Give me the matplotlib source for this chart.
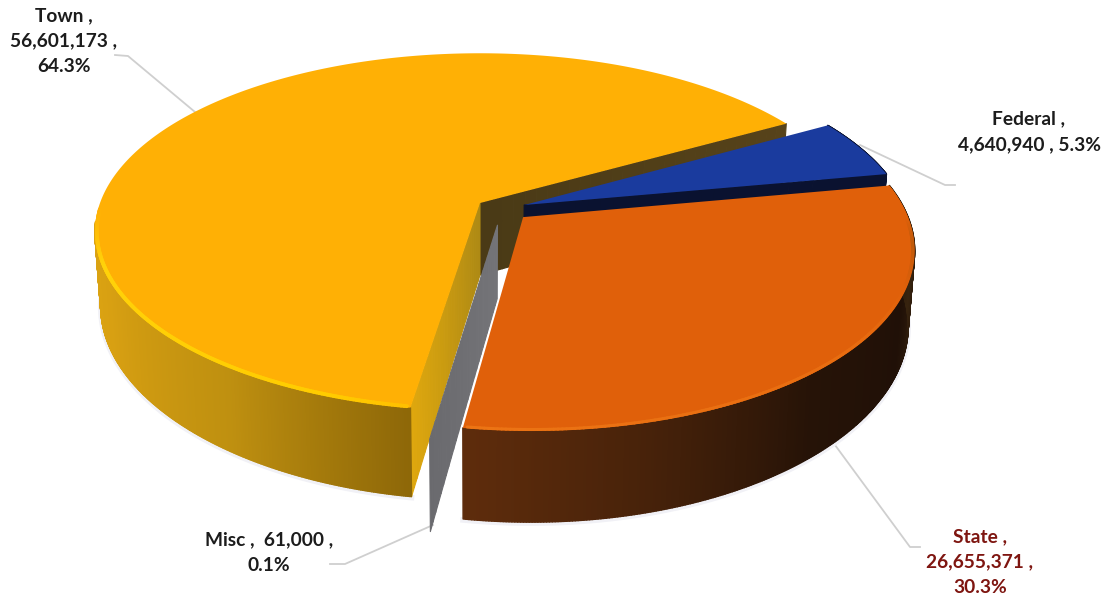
#! /usr/bin/env python
#
# Exploded 3-D pie of revenue by source, drawn as projected polygons.

import numpy as np
import matplotlib
matplotlib.use('Agg')
import matplotlib.pyplot as plt
from matplotlib.collections import PolyCollection, LineCollection
from matplotlib.colors import to_rgb

# chart values
sources = ['Town', 'Misc', 'State', 'Federal']
amounts = [56601173, 61000, 26655371, 4640940]
shares = ['64.3%', '0.1%', '30.3%', '5.3%']

# viewing setup, in figure pixels
origin = (480.0, 203.0)
radius_x, radius_y = 380.0, 174.0
tilt = 0.162
depth = 72.0
bottom_shrink = 0.985
start_angle = 29.5

# plane offset of each slice from the pie centre
explode = {'Town': (0.0, 0.0), 'Misc': (0.045, -0.125),
           'State': (0.112, -0.08), 'Federal': (0.116, -0.0115)}

top_colors = {'Town': '#FFB005', 'Misc': '#8a8a8a', 'State': '#E0600A',
              'Federal': '#1A3B9E'}

# side shading as (angle, colour) stops
town_side = [(165, '#E2AA14'), (205, '#D8A012'), (235, '#BF9010'), (262, '#8C6608')]
state_side = [(262, '#5E2C0C'), (285, '#47220A'), (310, '#261307'),
              (335, '#201007'), (355, '#38240F'), (371, '#1A1005')]
federal_side = [(11, '#0A1230'), (30, '#0A1230')]


def project(u, v):
    w = 1 + tilt * v
    return origin[0] + radius_x * u / w, origin[1] - radius_y * v / w


def top_point(offset, r, angle):
    t = np.radians(angle)
    return project(offset[0] + r * np.cos(t), offset[1] + r * np.sin(t))


def drop(x, y):
    # same point on the underside of the disc, nearer points drop further
    x = np.asarray(x, dtype=float)
    y = np.asarray(y, dtype=float)
    below = (y - origin[1]) / radius_y
    w = 1 / (1 - tilt * below)
    return origin[0] + (x - origin[0]) * bottom_shrink, y + depth * w


def shade(stops, angles):
    pos = [s[0] for s in stops]
    rgb = np.array([to_rgb(s[1]) for s in stops])
    return np.column_stack([np.interp(angles, pos, rgb[:, i]) for i in range(3)])


def draw_wall(ax, offset, angle, color_in, color_out, zorder):
    # flat cut face running from the slice tip out to the rim
    r = np.linspace(0, 1, 30)
    x, y = top_point(offset, r, angle)
    xb, yb = drop(x, y)
    quads = [[(x[i], y[i]), (x[i + 1], y[i + 1]), (xb[i + 1], yb[i + 1]), (xb[i], yb[i])]
             for i in range(len(r) - 1)]
    c0, c1 = np.array(to_rgb(color_in)), np.array(to_rgb(color_out))
    colors = [c0 + (c1 - c0) * f for f in r[:-1]]
    ax.add_collection(PolyCollection(quads, facecolors=colors, edgecolors=colors,
                                     linewidths=0.8, zorder=zorder))


def draw_side(ax, offset, a0, a1, stops, zorder):
    angles = np.linspace(a0, a1, 300)
    x, y = top_point(offset, 1.0, angles)
    xb, yb = drop(x, y)
    # pale halo under the lower edge
    ax.plot(xb, yb + 1, color='#F1F1F6', lw=4, zorder=0.5)
    quads = [[(x[i], y[i]), (x[i + 1], y[i + 1]), (xb[i + 1], yb[i + 1]), (xb[i], yb[i])]
             for i in range(len(angles) - 1)]
    colors = shade(stops, angles[:-1])
    ax.add_collection(PolyCollection(quads, facecolors=colors, edgecolors=colors,
                                     linewidths=1.0, zorder=zorder))


def draw_top(ax, offset, a0, a1, color, zorder):
    angles = np.linspace(a0, a1, 300)
    x, y = top_point(offset, 1.0, angles)
    tip = project(*offset)
    ax.fill(np.r_[tip[0], x], np.r_[tip[1], y], color=color, lw=0, zorder=zorder)


def draw_bevel(ax, offset, a0, a1, stops, lw, zorder):
    angles = np.linspace(a0, a1, 200)
    x, y = top_point(offset, 0.995, angles)
    pts = np.column_stack([x, y]).reshape(-1, 1, 2)
    segs = np.concatenate([pts[:-1], pts[1:]], axis=1)
    ax.add_collection(LineCollection(segs, colors=shade(stops, angles[:-1]),
                                     linewidths=lw, zorder=zorder, capstyle='round'))


# slice angles follow the amounts
total = float(sum(amounts))
spans = [a / total * 360.0 for a in amounts]
edges = start_angle + np.r_[0, np.cumsum(spans)]
limits = {s: (edges[i], edges[i + 1]) for i, s in enumerate(sources)}

fig = plt.figure(figsize=(11.07, 6.0), dpi=100)
ax = fig.add_axes([0, 0, 1, 1])
ax.set_xlim(0, 1107)
ax.set_ylim(600, 0)
ax.axis('off')

# Town slice first, everything else sits in front of it
t0, t1 = limits['Town']
draw_wall(ax, explode['Town'], t0, '#4A3A16', '#57431A', 1)
draw_wall(ax, explode['Town'], t1, '#AE8A14', '#E0A80E', 2)
draw_side(ax, explode['Town'], 186, t1, town_side, 3)
draw_top(ax, explode['Town'], t0, t1, top_colors['Town'], 4)
draw_bevel(ax, explode['Town'], 182, t1 - 0.5,
           [(182, '#FFB005'), (200, '#FFD20A'), (250, '#FFCC00'), (262, '#FFBE00')], 2.8, 5)

# Misc is only a thin grey face
m0, m1 = limits['Misc']
draw_wall(ax, explode['Misc'], m0, '#747478', '#6A6A6E', 6)

f0, f1 = limits['Federal']
draw_wall(ax, explode['Federal'], f0, '#0A1230', '#0A1230', 7)
draw_side(ax, explode['Federal'], f0, f1, federal_side, 7)
draw_top(ax, explode['Federal'], f0, f1, top_colors['Federal'], 8)

s0, s1 = limits['State']
draw_side(ax, explode['State'], s0, s1, state_side, 9)
draw_top(ax, explode['State'], s0, s1, top_colors['State'], 10)
draw_bevel(ax, explode['State'], s0 + 0.5, s1 - 0.5,
           [(262, '#EC7414'), (320, '#E86C10'), (338, '#E0600A'), (352, '#C05A0A'),
            (360, '#E0600A'), (371, '#E0600A')], 2.2, 11)

# leader lines
leader_x = [[115, 128, 195], [860, 945, 955], [835, 910, 920], [433, 345, 330]]
leader_y = [[55, 56, 112], [145, 185, 185], [445, 547, 547], [525, 564, 564]]
for lx, ly in zip(leader_x, leader_y):
    ax.plot(lx, ly, color='#CFCFCF', lw=1.3, zorder=0)

# labels
label_style = dict(family='Lato', fontweight='bold', fontsize=13.8, ha='center',
                   va='center', linespacing=1.62)
fmt = lambda i: format(amounts[i], ',')
ax.text(64, 41, 'Town ,\n%s ,\n%s' % (fmt(0), shares[0]), color='#1c1c1c', **label_style)
ax.text(1029, 132, 'Federal ,\n%s , %s' % (fmt(3), shares[3]), color='#1c1c1c', **label_style)
ax.text(980, 562, 'State ,\n%s ,\n%s' % (fmt(2), shares[2]), color='#7E1510', **label_style)
ax.text(269, 553, 'Misc ,  %s ,\n%s' % (fmt(1), shares[1]), color='#1c1c1c', **label_style)

fig.savefig('out.png', dpi=100, facecolor='white')
plt.close(fig)
